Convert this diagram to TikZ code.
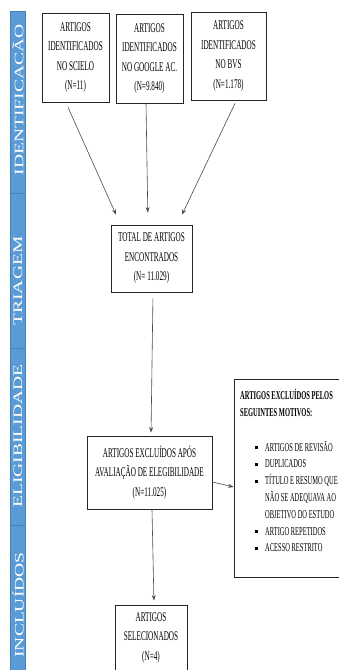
\documentclass[tikz,border=0pt]{standalone}
\usepackage{fontspec}
\setmainfont{Liberation Serif}
\newfontfamily\boxfont[FakeStretch=0.54]{Liberation Serif}
\newfontfamily\sidefont[FakeStretch=1.5]{Liberation Serif}
\usetikzlibrary{arrows.meta}
\definecolor{faseazul}{RGB}{91,155,213}
\definecolor{faselinha}{RGB}{70,128,184}
\newcommand{\marca}{\raisebox{2.2pt}{\rule{2.4pt}{2.8pt}}}

\begin{document}
\begin{tikzpicture}[x=1pt,y=-1pt,
	caixa/.style={draw=black!85, line width=0.8pt, align=center, inner sep=0pt,
		font=\boxfont\fontsize{13.3}{19.5}\selectfont},
	seta/.style={draw=black!70, line width=0.6pt, -{Stealth[length=5.5pt,width=4pt]}},
	fase/.style={rotate=90, text=white, inner sep=0pt, font=\sidefont\fontsize{13}{14}\selectfont}]
				\useasboundingbox (0,0) rectangle (339,670);
				\fill[white] (0,0) rectangle (339,670);
				\draw[fill=faseazul, draw=faselinha, line width=0.4pt] (10,11) rectangle (25,193);
				\draw[fill=faseazul, draw=faselinha, line width=0.4pt] (10,193) rectangle (25,348);
				\draw[fill=faseazul, draw=faselinha, line width=0.4pt] (10,348) rectangle (25,525);
				\draw[fill=faseazul, draw=faselinha, line width=0.4pt] (10,525) rectangle (25,672);
				\node[fase] (identificacao) at (18,100) {IDENTIFICACÃO};
				\node[fase] (triagem) at (18,281) {TRIAGEM};
				\node[fase] (elegibilidade) at (18,436) {ELIGIBILIDADE};
				\node[fase] (incluidos) at (18,605) {INCLUÍDOS};
				\node[caixa, minimum width=67, minimum height=89] (scielo) at (75.5,57.5)
				{ARTIGOS\\IDENTIFICADOS\\NO SCIELO\\(N=11)};
				\node[caixa, minimum width=67, minimum height=89] (google) at (149.5,58.5)
				{ARTIGOS\\IDENTIFICADOS\\NO GOOGLE AC.\\(N=9.840)};
				\node[caixa, minimum width=75, minimum height=88] (bvs) at (228.5,56)
				{ARTIGOS\\IDENTIFICADOS\\NO BVS\\(N=1.178)};
				\node[caixa, minimum width=81, minimum height=67] (total) at (151.5,258.5)
				{TOTAL DE ARTIGOS\\ENCONTRADOS\\(N= 11.029)};
				\node[caixa, minimum width=125, minimum height=73] (excl) at (149.5,472.5)
				{ARTIGOS EXCLUÍDOS APÓS\\AVALIAÇÃO DE ELEGIBILIDADE\\(N=11.025)};
				\node[caixa, minimum width=72, minimum height=66] (sel) at (151,638)
				{ARTIGOS\\SELECIONADOS\\(N=4)};
				\node[draw=black!85, line width=0.8pt, minimum width=120, minimum height=198,
				inner sep=0pt] (motivos) at (294,478) {};
				\node[anchor=north west, align=left, inner sep=0pt,
				font=\boxfont\fontsize{12}{16.8}\selectfont] (lista) at (240,389)
				{\textbf{ARTIGOS EXCLUÍDOS PELOS}\\
				\textbf{SEGUINTES MOTIVOS:}\\[18pt]
				\hspace*{15pt}\makebox[10pt][l]{\marca}ARTIGOS DE REVISÃO\\
				\hspace*{15pt}\makebox[10pt][l]{\marca}DUPLICADOS\\
				\hspace*{15pt}\makebox[10pt][l]{\marca}TÍTULO E RESUMO QUE\\
				\hspace*{25pt}NÃO SE ADEQUAVA AO\\
				\hspace*{25pt}OBJETIVO DO ESTUDO\\
				\hspace*{15pt}\makebox[10pt][l]{\marca}ARTIGO REPETIDOS\\
				\hspace*{15pt}\makebox[10pt][l]{\marca}ACESSO RESTRITO};
				\draw[seta, shorten <=5.5pt, shorten >=11pt] ([xshift=-9.7pt]scielo.south) -- ([xshift=-31pt]total.north);
				\draw[seta, shorten >=12pt] ([xshift=-3.5pt]google.south) -- ([xshift=-3.5pt]total.north);
				\draw[seta, shorten <=3.3pt, shorten >=11pt] ([xshift=7.9pt]bvs.south) -- ([xshift=25.8pt]total.north);
				\draw[seta, shorten <=6pt, shorten >=3pt] ([xshift=1.5pt]total.south) -- ([xshift=1.5pt]excl.north);
				\draw[seta, shorten >=4pt] ([xshift=2.5pt]excl.south) -- ([xshift=3pt]sel.north);
				\draw[seta] ([yshift=-9.5pt]excl.east) -- ([yshift=-9pt]motivos.west);
			\end{tikzpicture}
\end{document}
